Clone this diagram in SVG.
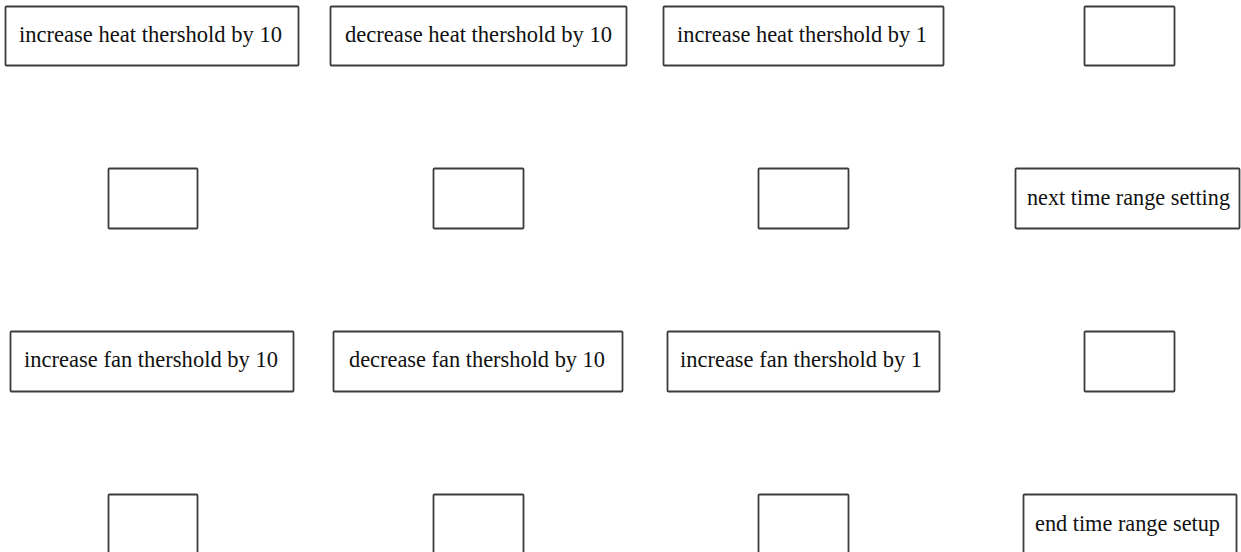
<svg xmlns="http://www.w3.org/2000/svg" width="1241" height="552" viewBox="0 0 1241 552">
<style>
.box{fill:#fff;stroke:#3c3c3c;stroke-width:1.8}
.lbl{font-family:"Liberation Serif","Times New Roman",serif;font-size:23px;fill:#111}
</style>
<rect width="1241" height="552" fill="#fff"/>
<g id="connectors"/>
<g id="n1"><rect class="box" x="5.5" y="6.5" width="293" height="59" rx="1"/><text class="lbl" x="19" y="42" textLength="263" lengthAdjust="spacingAndGlyphs">increase heat thershold by 10</text></g>
<g id="n2"><rect class="box" x="330.5" y="6.5" width="296" height="59" rx="1"/><text class="lbl" x="345" y="42" textLength="267" lengthAdjust="spacingAndGlyphs">decrease heat thershold by 10</text></g>
<g id="n3"><rect class="box" x="663.5" y="6.5" width="280" height="59" rx="1"/><text class="lbl" x="677" y="42" textLength="250" lengthAdjust="spacingAndGlyphs">increase heat thershold by 1</text></g>
<g id="n4"><rect class="box" x="1084.5" y="6.5" width="90" height="59" rx="1"/></g>
<g id="n5"><rect class="box" x="108.5" y="168.5" width="89" height="60" rx="1"/></g>
<g id="n6"><rect class="box" x="433.5" y="168.5" width="90" height="60" rx="1"/></g>
<g id="n7"><rect class="box" x="758.5" y="168.5" width="90" height="60" rx="1"/></g>
<g id="n8"><rect class="box" x="1015.5" y="168.5" width="224" height="60" rx="1"/><text class="lbl" x="1027" y="205" textLength="203" lengthAdjust="spacingAndGlyphs">next time range setting</text></g>
<g id="n9"><rect class="box" x="10.5" y="331.5" width="283" height="60" rx="1"/><text class="lbl" x="24" y="367" textLength="254" lengthAdjust="spacingAndGlyphs">increase fan thershold by 10</text></g>
<g id="n10"><rect class="box" x="333.5" y="331.5" width="289" height="60" rx="1"/><text class="lbl" x="349" y="367" textLength="256" lengthAdjust="spacingAndGlyphs">decrease fan thershold by 10</text></g>
<g id="n11"><rect class="box" x="667.5" y="331.5" width="272" height="60" rx="1"/><text class="lbl" x="680" y="367" textLength="242" lengthAdjust="spacingAndGlyphs">increase fan thershold by 1</text></g>
<g id="n12"><rect class="box" x="1084.5" y="331.5" width="90" height="60" rx="1"/></g>
<g id="n13"><rect class="box" x="108.5" y="494.5" width="89" height="65" rx="1"/></g>
<g id="n14"><rect class="box" x="433.5" y="494.5" width="90" height="65" rx="1"/></g>
<g id="n15"><rect class="box" x="758.5" y="494.5" width="90" height="65" rx="1"/></g>
<g id="n16"><rect class="box" x="1023.5" y="494.5" width="213" height="65" rx="1"/><text class="lbl" x="1035" y="531" textLength="185" lengthAdjust="spacingAndGlyphs">end time range setup</text></g>
</svg>
